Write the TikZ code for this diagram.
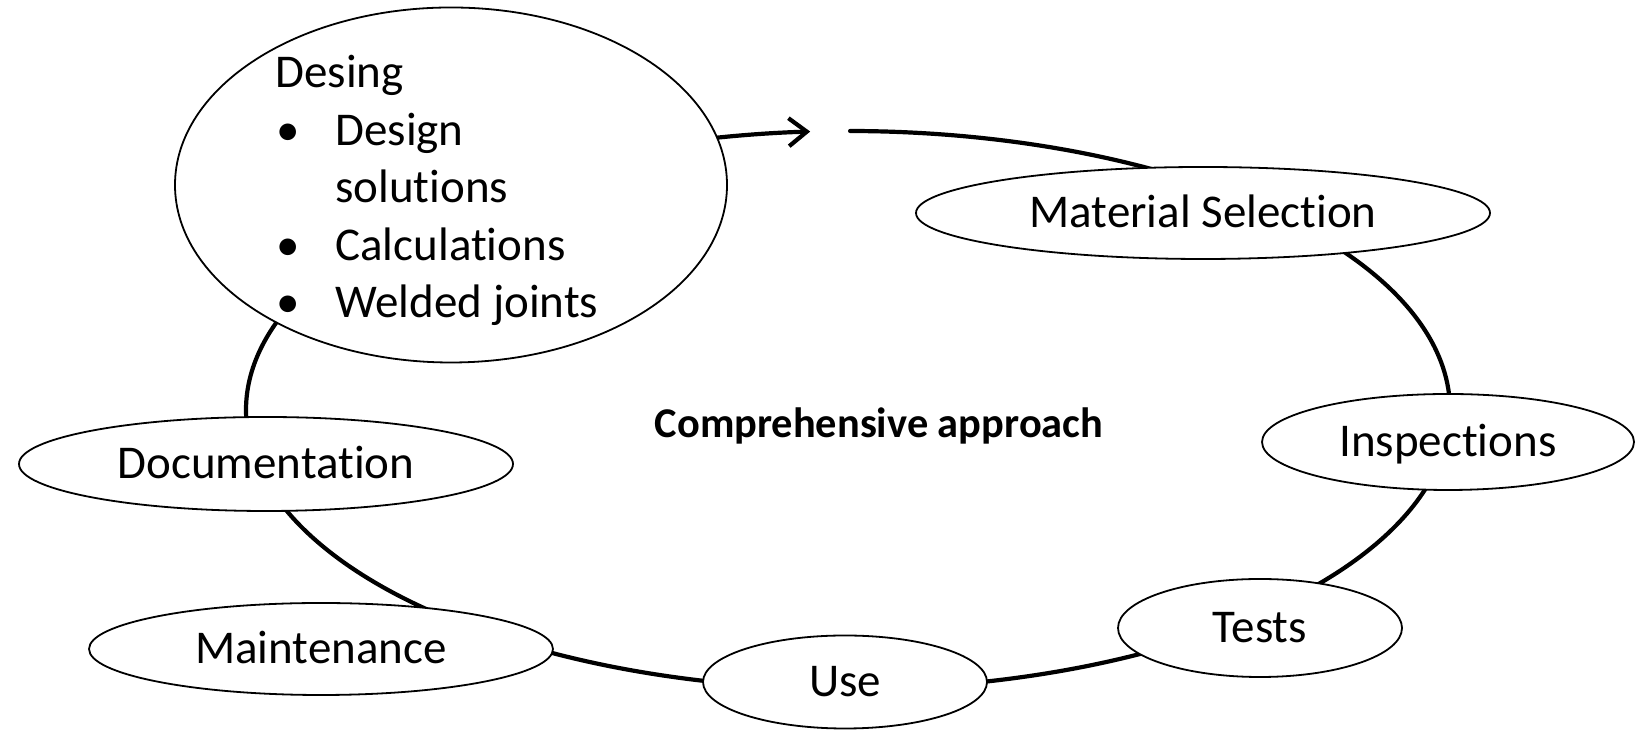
\documentclass[tikz,border=0pt]{standalone}
\usepackage{fontspec}
\setmainfont{Carlito}[Ligatures=NoCommon]
\usetikzlibrary{shapes.geometric,arrows.meta,backgrounds,calc}
\begin{document}
\begin{tikzpicture}[x=0.5pt,y=0.5pt,
  oval/.style={ellipse,draw,line width=0.9pt,fill=white,inner sep=0pt,
    font=\fontsize{23.5}{28.75}\selectfont,text height=14.8pt,text depth=0pt},
  conn/.style={line width=2.1pt,line cap=round},
  cycarc/.style={x radius=301pt,y radius=139.5pt}]
\useasboundingbox (0,0) rectangle (1636,731);
% stages
\node[oval,minimum width=276pt,minimum height=177.5pt] (design) at (451,546) {};
\node[anchor=base west,inner sep=0pt,font=\fontsize{23.5}{28.75}\selectfont] (designtext) at (275,643)
  {\begin{tabular}[t]{@{}l@{}}Desing\\
   \makebox[30pt][l]{\hspace*{0.5pt}\textbullet}Design\\
   \hspace*{30pt}solutions\\
   \makebox[30pt][l]{\hspace*{0.5pt}\textbullet}Calculations\\
   \makebox[30pt][l]{\hspace*{0.5pt}\textbullet}Welded joints\end{tabular}};
\node[oval,minimum width=287pt,minimum height=46pt] (ms) at (1203,518) {Material Selection};
\node[oval,minimum width=186pt,minimum height=48pt] (insp) at (1448,289) {Inspections};
\node[oval,minimum width=142pt,minimum height=49pt] (tests) at (1260,103) {Tests};
\node[oval,minimum width=142pt,minimum height=46.5pt] (use) at (845,49) {Use};
\node[oval,minimum width=232pt,minimum height=46pt] (maint) at (321,82) {Maintenance};
\node[oval,minimum width=247pt,minimum height=47pt] (doc) at (266,267) {Documentation};
\node[inner sep=0pt,font=\bfseries\fontsize{21.2}{25}\selectfont,text height=13.4pt,text depth=0pt]
  (center) at (879,307) {Comprehensive approach};
% cycle connectors (arcs of one large ellipse)
\coordinate (E) at (848,321);
\foreach \n/\a in {a0/104,b0/89.8,b1/58,c0/37,c1/1,d0/-13,d1/-41,e0/-58,e1/-78,f0/-102,f1/-122,g0/-132,g1/-161,h0/183,h1/158}
  \coordinate (\n) at ($(E)+(\a:301pt and 139.5pt)$);
\begin{scope}[on background layer]
\draw[conn,-{Straight Barb[length=9pt,width=14pt]}] (a0) arc[cycarc,start angle=104,end angle=93.6];
\draw[conn] (b0) arc[cycarc,start angle=89.8,end angle=58];
\draw[conn] (c0) arc[cycarc,start angle=37,end angle=1];
\draw[conn] (d0) arc[cycarc,start angle=-13,end angle=-41];
\draw[conn] (e0) arc[cycarc,start angle=-58,end angle=-78];
\draw[conn] (f0) arc[cycarc,start angle=-102,end angle=-122];
\draw[conn] (g0) arc[cycarc,start angle=-132,end angle=-161];
\draw[conn] (h0) arc[cycarc,start angle=183,end angle=158];
\end{scope}
\end{tikzpicture}
\end{document}
